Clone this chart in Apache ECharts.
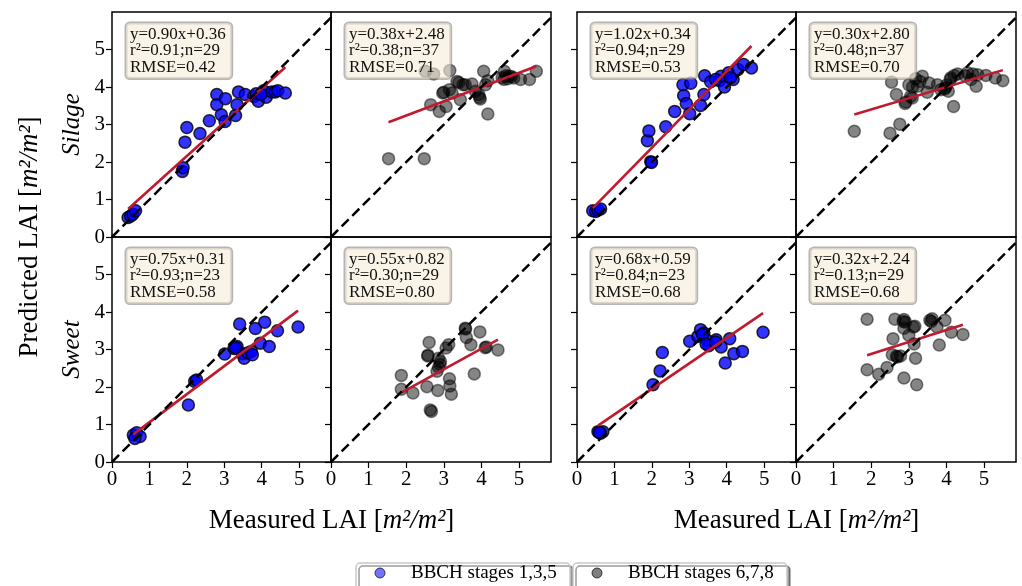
<!DOCTYPE html>
<html>
<head>
<meta charset="utf-8">
<script src="https://cdn.jsdelivr.net/npm/echarts@6/dist/echarts.min.js"></script>
<style>
  html, body { margin: 0; padding: 0; background: #fff; }
  #chart { width: 1022px; height: 586px; }
</style>
</head>
<body>
<div id="chart"></div>
<script>
// ---- axis ticks and labels ----
const tickValues = [0, 1, 2, 3, 4, 5];
const xMax = 5.85;
const yMax = 6;
const rowNames = ['Silage', 'Sweet'];
const stageNames = ['BBCH stages 1,3,5', 'BBCH stages 6,7,8'];

// ---- measured vs predicted LAI, [measured, predicted] ----
// model 1, silage, stages 1,3,5
const m1SilageEarly = [
  [0.43,0.52],[0.50,0.56],[0.56,0.61],[0.63,0.70],
  [1.88,1.75],[1.90,1.85],[1.95,2.53],[2.00,2.92],[2.35,2.76],[2.60,3.10],
  [2.80,3.80],[2.80,3.53],[2.92,3.26],[3.02,3.08],[3.03,3.69],
  [3.30,3.24],[3.34,3.53],[3.38,3.87],[3.56,3.80],[3.79,3.75],[3.85,3.82],
  [3.91,3.62],[4.05,3.90],[4.12,3.73],[4.27,3.87],[4.36,3.87],[4.43,3.90],[4.63,3.84],[3.98,3.81]
];
// model 1, silage, stages 6,7,8
const m1SilageLate = [
  [1.53,2.09],[2.48,2.09],[2.51,4.42],[2.73,4.35],[3.16,4.44],
  [2.65,3.53],[2.88,3.35],[3.06,3.48],[2.97,3.84],[3.15,3.93],[3.22,3.84],
  [3.35,4.15],[3.51,4.06],[3.57,4.06],[3.75,4.08],[3.44,3.66],
  [3.84,3.89],[3.93,3.80],[3.97,3.68],[3.95,3.72],[4.06,4.42],[4.17,4.17],[4.11,4.06],[4.17,3.28],
  [4.61,4.42],[4.60,4.20],[4.65,4.30],[4.73,4.29],[4.86,4.24],[4.80,4.28],[5.04,4.20],[5.28,4.20],[5.46,4.42],
  [3.00,3.86],[4.55,4.25],[4.70,4.22],[3.40,4.12]
];
// model 2, silage, stages 1,3,5
const m2SilageEarly = [
  [0.42,0.70],[0.50,0.68],[0.56,0.72],[0.63,0.75],
  [1.97,2.01],[1.99,1.99],[1.88,2.57],[1.92,2.83],[2.37,2.94],[2.61,3.35],
  [2.83,4.06],[3.04,4.10],[2.85,3.77],[2.92,3.56],[3.01,3.29],
  [3.30,3.51],[3.39,3.80],[3.41,4.30],[3.57,4.14],[3.81,4.17],[3.85,4.29],
  [3.94,4.00],[4.05,4.38],[4.17,4.20],[4.30,4.47],[4.45,4.60],[4.66,4.51],[4.10,4.25],[3.70,4.20]
];
// model 2, silage, stages 6,7,8
const m2SilageLate = [
  [1.55,2.82],[2.50,2.77],[2.76,3.01],[2.54,4.13],[2.67,3.80],[2.90,3.56],[3.09,3.71],[3.00,4.06],
  [3.18,4.22],[3.36,4.29],[3.23,4.02],[3.49,3.86],[3.54,4.11],[3.76,4.06],[3.85,3.93],[3.98,3.98],
  [4.10,4.20],[4.21,4.31],[4.05,3.89],[4.19,3.48],[4.30,4.35],[4.56,4.38],[4.65,4.20],[4.79,4.02],
  [4.83,4.33],[5.05,4.31],[5.30,4.24],[5.50,4.17],
  [3.10,4.00],[3.30,4.15],[3.95,3.95],[4.00,4.05],[4.50,4.30],[4.70,4.35],[3.05,3.75],[2.92,3.60],[4.12,4.25]
];
// model 1, sweet, stages 1,3,5
const m1SweetEarly = [
  [0.57,0.72],[0.66,0.78],[0.75,0.68],[0.61,0.63],
  [2.04,1.52],[2.21,2.15],[2.26,2.19],
  [3.01,2.88],[3.26,3.03],[3.34,3.08],[3.41,3.68],[3.48,2.89],[3.53,2.77],
  [3.63,2.91],[3.72,2.95],[3.75,2.86],[3.83,3.56],[3.96,3.17],[4.08,3.73],[4.20,3.08],[4.42,3.50],[4.97,3.60],[3.30,3.05]
];
// model 1, sweet, stages 6,7,8
const m1SweetLate = [
  [1.87,2.31],[1.87,1.94],[2.18,1.84],[2.55,2.01],[2.64,1.39],[2.67,1.35],
  [2.61,3.19],[2.57,2.83],[2.86,2.77],[2.86,2.53],[2.82,2.42],[2.91,2.68],
  [3.06,3.04],[3.13,3.13],[2.84,1.91],[3.15,2.22],[3.16,2.03],[3.20,1.81],
  [3.57,3.57],[3.60,3.32],[3.72,3.13],[3.96,3.47],[3.81,2.35],[4.13,3.07],[4.44,2.99],
  [2.90,2.60],[3.58,3.55],[4.10,3.05],[2.58,2.85]
];
// model 2, sweet, stages 1,3,5
const m2SweetEarly = [
  [0.56,0.81],[0.69,0.81],[0.63,0.77],[0.60,0.79],
  [2.03,2.06],[2.22,2.43],[2.28,2.92],
  [3.01,3.22],[3.23,3.35],[3.30,3.53],[3.39,3.44],[3.48,3.24],[3.52,3.10],
  [3.72,3.26],[3.85,3.07],[4.08,3.29],[3.96,2.64],[4.19,2.89],[4.42,2.95],[4.97,3.46],
  [3.35,3.40],[3.45,3.15],[3.70,3.20]
];
// model 2, sweet, stages 6,7,8
const m2SweetLate = [
  [1.89,3.81],[1.89,2.46],[2.20,2.34],[2.42,2.52],[2.63,3.81],[2.87,3.80],[2.91,3.73],
  [3.16,3.62],[2.87,3.57],[3.00,3.38],[2.58,3.29],[2.56,2.86],[2.67,2.82],[2.78,2.83],
  [3.14,3.15],[3.18,2.77],[2.87,2.24],[3.21,2.06],[3.56,3.78],[3.62,3.82],[3.75,3.60],
  [3.96,3.78],[4.13,3.46],[3.81,3.12],[4.44,3.40],[2.70,2.80],[3.60,3.75],[3.12,3.60],[2.85,3.75]
];

// ---- panel order: top row then bottom row, left to right ----
const panelData = [m1SilageEarly, m1SilageLate, m2SilageEarly, m2SilageLate,
                   m1SweetEarly, m1SweetLate, m2SweetEarly, m2SweetLate];
const panelStage = [0, 1, 0, 1, 0, 1, 0, 1];

// ---- fit statistics per panel ----
const slopes     = [0.90, 0.38, 1.02, 0.30, 0.75, 0.55, 0.68, 0.32];
const intercepts = [0.36, 2.48, 0.34, 2.80, 0.31, 0.82, 0.59, 2.24];
const r2s        = [0.91, 0.38, 0.94, 0.48, 0.93, 0.30, 0.84, 0.13];
const counts     = [29, 37, 29, 37, 23, 29, 23, 29];
const rmses      = [0.42, 0.71, 0.53, 0.70, 0.58, 0.80, 0.68, 0.68];

// ---- layout ----
const SERIF = '"Liberation Serif", "DejaVu Serif", serif';
const colLeft = [112, 331, 577, 796];
const colWidth = [219, 220, 219, 220];
const rowTop = [12, 237];
const rowHeight = 225;

const pointStyles = [
  { color: '#0000ff', borderColor: '#000', borderWidth: 1.5 },
  { color: 'rgba(0,0,0,0.6)', borderColor: 'rgba(0,0,0,0.6)', borderWidth: 1.5 }
];
const FIT_COLOR = '#c01a2e';

const grids = [], xAxes = [], yAxes = [], series = [], graphics = [];

panelData.forEach((pts, i) => {
  const row = i < 4 ? 0 : 1;
  const col = i % 4;
  grids.push({
    left: colLeft[col], top: rowTop[row], width: colWidth[col], height: rowHeight,
    show: true, borderColor: '#000', borderWidth: 1.5, backgroundColor: 'transparent'
  });
  xAxes.push({
    type: 'value', gridIndex: i, min: 0, max: xMax, interval: 1,
    axisLine: { show: false }, splitLine: { show: false },
    axisTick: { show: row === 1, customValues: tickValues, length: 6, lineStyle: { color: '#000', width: 1.2 } },
    axisLabel: { show: row === 1, customValues: tickValues, fontFamily: SERIF, fontSize: 21, color: '#000', margin: 7 }
  });
  yAxes.push({
    type: 'value', gridIndex: i, min: 0, max: yMax, interval: 1,
    axisLine: { show: false }, splitLine: { show: false },
    axisTick: { show: true, customValues: tickValues, length: 6, lineStyle: { color: '#000', width: 1.2 } },
    axisLabel: { show: col === 0, customValues: tickValues, fontFamily: SERIF, fontSize: 21, color: '#000', margin: 7 }
  });

  const stage = panelStage[i];
  series.push({
    type: 'scatter', name: stageNames[stage], xAxisIndex: i, yAxisIndex: i,
    data: pts, symbolSize: 12, itemStyle: pointStyles[stage], z: 2, silent: true
  });

  // least-squares fit drawn over the measured range
  const xs = pts.map(p => p[0]);
  const x0 = Math.min(...xs), x1 = Math.max(...xs);
  const a = slopes[i], b = intercepts[i];
  series.push({
    type: 'line', xAxisIndex: i, yAxisIndex: i, symbol: 'none', silent: true, z: 3,
    data: [[x0, a * x0 + b], [x1, a * x1 + b]],
    lineStyle: { color: FIT_COLOR, width: 2.6 }
  });

  // 1:1 line over the full axis range
  series.push({
    type: 'line', xAxisIndex: i, yAxisIndex: i, symbol: 'none', silent: true, z: 4, clip: true,
    data: [[0, 0], [yMax, yMax]],
    lineStyle: { color: '#000', width: 2.5, type: [10, 5] }
  });

  graphics.push({
    type: 'text', x: colLeft[col] + 14, y: rowTop[row] + 11, z: 100,
    style: {
      text: [
        'y=' + a.toFixed(2) + 'x+' + b.toFixed(2),
        'r\u00b2=' + r2s[i].toFixed(2) + ';n=' + counts[i],
        'RMSE=' + rmses[i].toFixed(2)
      ].join('\n'),
      font: '17px ' + SERIF, fill: '#111', lineHeight: 16.5,
      backgroundColor: 'rgba(245,236,215,0.6)',
      borderColor: 'rgba(120,120,120,0.55)', borderWidth: 1.5, borderRadius: 4,
      padding: [3, 6, 3, 4]
    }
  });
});

// axis titles
const unitRich = {
  n: { fontFamily: SERIF, fontSize: 27, color: '#000' },
  i: { fontFamily: SERIF, fontSize: 27, fontStyle: 'italic', color: '#000' }
};
const unitText = (lead) => '{n|' + lead + ' [}{i|m\u00b2/m\u00b2}{n|]}';

graphics.push({
  type: 'text', x: 30, y: (rowTop[0] + rowTop[1] + rowHeight) / 2, rotation: Math.PI / 2,
  style: { text: unitText('Predicted LAI'), rich: unitRich, textAlign: 'center', textVerticalAlign: 'middle' }
});
[0, 2].forEach(c => {
  const cx = (colLeft[c] + colLeft[c + 1] + colWidth[c + 1]) / 2;
  graphics.push({
    type: 'text', x: cx, y: 521,
    style: { text: unitText('Measured LAI'), rich: unitRich, textAlign: 'center', textVerticalAlign: 'middle' }
  });
});
rowNames.forEach((name, r) => {
  graphics.push({
    type: 'text', x: 72, y: rowTop[r] + rowHeight / 2, rotation: Math.PI / 2,
    style: {
      text: name, font: 'italic 25px ' + SERIF, fill: '#000',
      textAlign: 'center', textVerticalAlign: 'middle'
    }
  });
});

// one framed key box per stage group
const keyFill = ['rgba(0,0,255,0.55)', 'rgba(0,0,0,0.5)'];
const keyLeft = [356, 573];
const keyTop = 563, keyWidth = 214, keyHeight = 34;
stageNames.forEach((name, k) => {
  graphics.push({
    type: 'group', x: keyLeft[k], y: keyTop, z: 50,
    children: [
      {
        type: 'rect', shape: { x: 0, y: 0, width: keyWidth, height: keyHeight, r: 4 },
        style: {
          fill: '#fff', stroke: '#c8c8c8', lineWidth: 1.5,
          shadowColor: 'rgba(0,0,0,0.4)', shadowOffsetX: 3, shadowOffsetY: 3, shadowBlur: 0
        }
      },
      {
        type: 'circle', shape: { cx: 24, cy: 10, r: 5 },
        style: { fill: keyFill[k], stroke: 'rgba(0,0,0,0.7)', lineWidth: 1 }
      },
      {
        type: 'text', x: 55, y: 10,
        style: { text: name, font: '19px ' + SERIF, fill: '#000', textVerticalAlign: 'middle' }
      }
    ]
  });
});

const chart = echarts.init(document.getElementById('chart'), null, { renderer: 'canvas' });
chart.setOption({
  animation: false,
  backgroundColor: '#fff',
  grid: grids,
  xAxis: xAxes,
  yAxis: yAxes,
  series: series,
  graphic: graphics
});
</script>
</body>
</html>
